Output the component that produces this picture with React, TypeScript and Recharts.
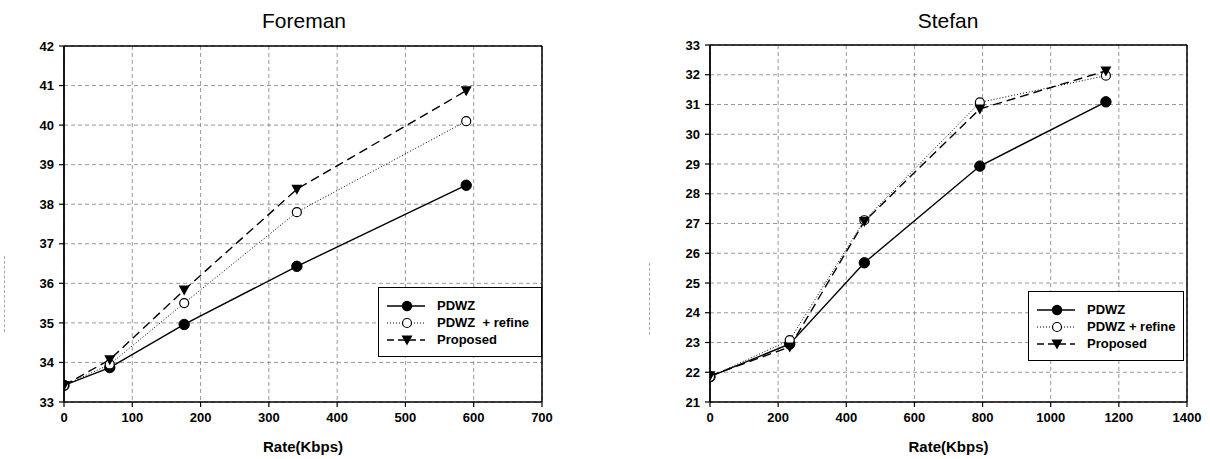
import React from 'react';
import { LineChart, Line, XAxis, YAxis, CartesianGrid, ReferenceLine, Legend } from 'recharts';

const foremanRates = [0, 67, 176, 341, 589];
const foremanPDWZ = [33.42, 33.87, 34.96, 36.43, 38.48];
const foremanRefine = [33.42, 33.95, 35.5, 37.8, 40.1];
const foremanProposed = [33.42, 34.07, 35.83, 38.38, 40.87];
const foremanXTicks = [0, 100, 200, 300, 400, 500, 600, 700];
const foremanYTicks = [33, 34, 35, 36, 37, 38, 39, 40, 41, 42];

const stefanRates = [0, 234, 453, 792, 1162];
const stefanPDWZ = [21.85, 22.95, 25.68, 28.93, 31.09];
const stefanRefine = [21.85, 23.08, 27.11, 31.07, 31.97];
const stefanProposed = [21.88, 22.85, 27.07, 30.85, 32.13];
const stefanXTicks = [0, 200, 400, 600, 800, 1000, 1200, 1400];
const stefanYTicks = [21, 22, 23, 24, 25, 26, 27, 28, 29, 30, 31, 32, 33];

const seriesNames = ['PDWZ', 'PDWZ + refine', 'Proposed'];

const FONT = '"Liberation Sans", Arial, sans-serif';

const buildRows = (x: number[], a: number[], b: number[], c: number[]) =>
  x.map((v, i) => ({ rate: v, pdwz: a[i], refine: b[i], proposed: c[i] }));

const FilledDot = (p: any) =>
  p.cx == null ? null : <circle key={p.key ?? `f${p.index}`} cx={p.cx} cy={p.cy} r={5.2} fill="#000" stroke="#000" />;
const OpenDot = (p: any) =>
  p.cx == null ? null : <circle key={p.key ?? `o${p.index}`} cx={p.cx} cy={p.cy} r={4.5} fill="#fff" stroke="#000" strokeWidth={1.2} />;
const TriDot = (p: any) =>
  p.cx == null ? null : (
    <path key={p.key ?? `t${p.index}`} d={`M${p.cx - 5.5},${p.cy - 4.5} L${p.cx + 5.5},${p.cy - 4.5} L${p.cx},${p.cy + 5.5} Z`} fill="#000" />
  );

const LegendSample = ({ kind }: { kind: number }) => (
  <svg width={40} height={14} style={{ display: 'block' }}>
    {kind === 0 && <line x1={0} y1={7} x2={38} y2={7} stroke="#000" strokeWidth={1.4} />}
    {kind === 1 && <line x1={0} y1={7} x2={38} y2={7} stroke="#000" strokeWidth={1} strokeDasharray="1 2" />}
    {kind === 2 && <line x1={0} y1={7} x2={38} y2={7} stroke="#000" strokeWidth={1.4} strokeDasharray="7 4" />}
    {kind === 0 && <circle cx={20} cy={7} r={5.2} fill="#000" />}
    {kind === 1 && <circle cx={20} cy={7} r={4.5} fill="#fff" stroke="#000" strokeWidth={1.2} />}
    {kind === 2 && <path d="M14.5,2.5 L25.5,2.5 L20,12.5 Z" fill="#000" />}
  </svg>
);

const LegendBox = ({ labels, width, gap }: { labels: string[]; width: number; gap: number }) => (
  <div
    style={{
      border: '1.5px solid #000',
      background: '#fff',
      width,
      boxSizing: 'border-box',
      padding: '9px 0 8px 8px',
      fontFamily: FONT,
      fontSize: 13,
      fontWeight: 'bold',
      color: '#000',
    }}
  >
    {labels.map((l, i) => (
      <div key={l} style={{ display: 'flex', alignItems: 'center', height: 17 }}>
        <LegendSample kind={i} />
        <span style={{ marginLeft: gap, whiteSpace: 'pre' }}>{l}</span>
      </div>
    ))}
  </div>
);

type PanelProps = {
  rows: any[];
  xTicks: number[];
  yTicks: number[];
  width: number;
  margin: { top: number; right: number; bottom: number; left: number };
  legendLabels: string[];
  legendPos: { left: number; top: number; width: number };
  legendGap: number;
};

const Panel = ({ rows, xTicks, yTicks, width, margin, legendLabels, legendPos, legendGap }: PanelProps) => {
  const xMax = xTicks[xTicks.length - 1];
  const yMin = yTicks[0];
  const yMax = yTicks[yTicks.length - 1];
  const tickStyle = { fontFamily: FONT, fontSize: 13, fontWeight: 'bold', fill: '#000' } as any;
  return (
    <LineChart width={width} height={459} data={rows} margin={margin}>
      <CartesianGrid stroke="#808080" strokeDasharray="4 3" strokeWidth={0.8} />
      <XAxis
        dataKey="rate"
        type="number"
        domain={[0, xMax]}
        ticks={xTicks}
        interval={0}
        allowDataOverflow
        height={50}
        tick={tickStyle}
        tickSize={5}
        tickMargin={6}
        axisLine={{ stroke: '#000', strokeWidth: 1.5 }}
        tickLine={{ stroke: '#000', strokeWidth: 1.2 }}
        label={{
          value: 'Rate(Kbps)',
          position: 'insideBottom',
          offset: 0,
          style: { fontFamily: FONT, fontSize: 15, fontWeight: 'bold', fill: '#000' },
        }}
      />
      <YAxis
        type="number"
        domain={[yMin, yMax]}
        ticks={yTicks}
        interval={0}
        allowDataOverflow
        width={50}
        tick={tickStyle}
        tickSize={5}
        tickMargin={5}
        axisLine={{ stroke: '#000', strokeWidth: 1.8 }}
        tickLine={{ stroke: '#000', strokeWidth: 1.2 }}
      />
      <ReferenceLine y={yMax} stroke="#000" strokeWidth={1.5} />
      <ReferenceLine x={xMax} stroke="#000" strokeWidth={1.5} />
      <Legend
        layout="vertical"
        align="center"
        verticalAlign="middle"
        wrapperStyle={{ position: 'absolute', left: legendPos.left, top: legendPos.top, width: legendPos.width }}
        content={() => <LegendBox labels={legendLabels} width={legendPos.width} gap={legendGap} />}
      />
      <Line dataKey="pdwz" name={seriesNames[0]} stroke="#000" strokeWidth={1.4} dot={FilledDot} isAnimationActive={false} legendType="none" />
      <Line dataKey="refine" name={seriesNames[1]} stroke="#000" strokeWidth={1} strokeDasharray="1 2" dot={OpenDot} isAnimationActive={false} legendType="none" />
      <Line dataKey="proposed" name={seriesNames[2]} stroke="#000" strokeWidth={1.4} strokeDasharray="9 5" dot={TriDot} isAnimationActive={false} legendType="none" />
    </LineChart>
  );
};

const titleStyle = (center: number): React.CSSProperties => ({
  position: 'absolute',
  top: 8,
  left: center - 100,
  width: 200,
  textAlign: 'center',
  fontFamily: FONT,
  fontSize: 21,
  color: '#000',
  lineHeight: '26px',
});

const artifactStyle = (left: number, top: number, h: number): React.CSSProperties => ({
  position: 'absolute',
  left,
  top,
  height: h,
  width: 0,
  borderLeft: '1px dashed #aaa',
});

export default function App() {
  const foremanRows = buildRows(foremanRates, foremanPDWZ, foremanRefine, foremanProposed);
  const stefanRows = buildRows(stefanRates, stefanPDWZ, stefanRefine, stefanProposed);
  return (
    <div style={{ position: 'absolute', left: 0, top: 0, width: 1210, height: 459, background: '#fff', overflow: 'hidden' }}>
      <div style={{ position: 'absolute', left: 0, top: 0 }}>
        <Panel
          rows={foremanRows}
          xTicks={foremanXTicks}
          yTicks={foremanYTicks}
          width={600}
          margin={{ top: 46, right: 58, bottom: 7, left: 14 }}
          legendLabels={['PDWZ', 'PDWZ  + refine', 'Proposed']}
          legendPos={{ left: 378, top: 287, width: 164 }}
          legendGap={10}
        />
      </div>
      <div style={{ position: 'absolute', left: 600, top: 0 }}>
        <Panel
          rows={stefanRows}
          xTicks={stefanXTicks}
          yTicks={stefanYTicks}
          width={610}
          margin={{ top: 45, right: 23, bottom: 7, left: 60 }}
          legendLabels={['PDWZ', 'PDWZ + refine', 'Proposed']}
          legendPos={{ left: 428, top: 291, width: 156 }}
          legendGap={10}
        />
      </div>
      <div style={titleStyle(304)}>Foreman</div>
      <div style={titleStyle(948)}>Stefan</div>
      <div style={artifactStyle(4, 256, 76)} />
      <div style={artifactStyle(649, 263, 72)} />
    </div>
  );
}
